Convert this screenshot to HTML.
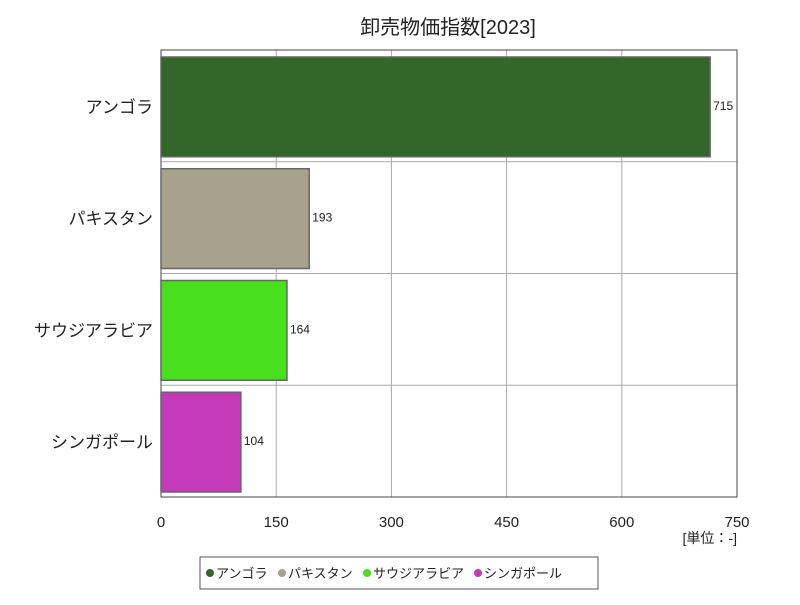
<!DOCTYPE html>
<html><head><meta charset="utf-8"><style>
body{margin:0;background:#fff;font-family:"Liberation Sans","Noto Sans CJK JP",sans-serif}
</style></head><body>
<svg id="chart" width="800" height="600" xmlns="http://www.w3.org/2000/svg" font-family="Liberation Sans, Noto Sans CJK JP, sans-serif">
<rect width="800" height="600" fill="#fff"/>
<text x="448" y="34" text-anchor="middle" font-size="20" fill="#222">卸売物価指数[2023]</text>
<g id="grid"></g><g id="bars"></g><g id="labels"></g>
<text x="737" y="543" text-anchor="end" font-size="14" fill="#222">[単位：-]</text>
<g>
<rect x="200" y="557" width="398" height="32" fill="#fff" stroke="#555"/>
<g id="legend"></g>
</g>
</svg>
<script>
const categories=["アンゴラ","パキスタン","サウジアラビア","シンガポール"];
const values=[715,193,164,104];
const colors=["#336629","#a8a28c","#48e01c","#c43ab8"];
const ticks=[0,150,300,450,600,750];
const NS="http://www.w3.org/2000/svg";
const L=161,R=737,T=50,B=497,MAX=750;
const x=v=>L+v/MAX*(R-L);
const band=(B-T)/categories.length;
const y=i=>T+i*band;
function mk(t,a,p){const e=document.createElementNS(NS,t);for(const k in a)e.setAttribute(k,a[k]);p.appendChild(e);return e;}
const grid=document.getElementById('grid'),bars=document.getElementById('bars'),labels=document.getElementById('labels'),leg=document.getElementById('legend');
ticks.forEach(t=>{
 const l=mk('line',{x1:x(t),x2:x(t),y1:T,y2:B,stroke:'#aaa'},grid);
 
 
 const tx=mk('text',{x:x(t),y:527,'text-anchor':'middle','font-size':15,fill:'#222'},labels);
 tx.textContent=t;
 
 
});
for(let i=1;i<categories.length;i++){
 const l=mk('line',{x1:L,x2:R,y1:y(i),y2:y(i),stroke:'#aaa'},grid);
 
 
}
const fr=mk('rect',{x:L,y:T,width:R-L,height:B-T,fill:'none',stroke:'#444'},grid);


categories.forEach((c,i)=>{
 const r=mk('rect',{x:L,y:y(i)+7,width:x(values[i])-L,height:band-12,fill:colors[i],stroke:'#666','stroke-width':1.5},bars);
 
 
 const v=mk('text',{x:x(values[i])+3,y:y(i)+band/2+4,'font-size':12,fill:'#222'},labels);
 v.textContent=values[i];
 
 
 const cl=mk('text',{x:153,y:y(i)+band/2+7,'text-anchor':'end','font-size':17,fill:'#222'},labels);
 cl.textContent=c;
 
 
});
let lx=206;
categories.forEach((c,i)=>{
 const d=mk('circle',{cx:lx+4,cy:573,r:4,fill:colors[i]},leg);
 
 
 const t=mk('text',{x:lx+10,y:578,'font-size':13,fill:'#222'},leg);
 t.textContent=c;
 
 
 lx+=14+c.length*13+6;
});
</script>
</body></html>
